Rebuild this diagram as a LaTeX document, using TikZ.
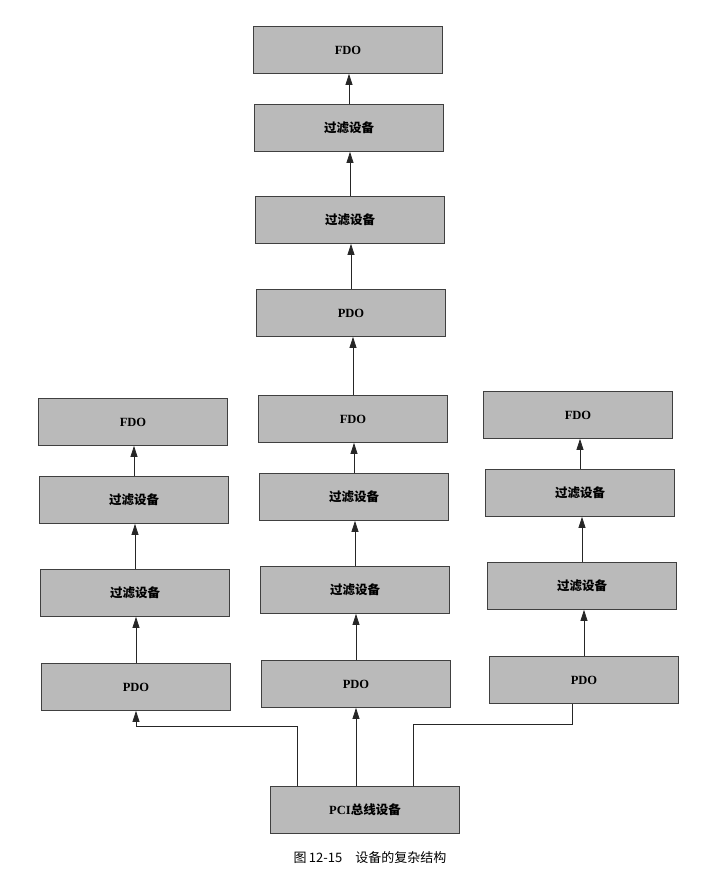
\documentclass[tikz,border=0pt]{standalone}
\usepackage{fontspec}
\setmainfont{Liberation Serif}
\newfontfamily\cjk{Noto Sans CJK SC}
\usetikzlibrary{arrows.meta}

\begin{document}
\begin{tikzpicture}[x=1pt,y=-1pt,
  dev/.style={rectangle,draw=black!75,fill=black!27,line width=0.8pt,
    minimum width=189pt,minimum height=47pt,font=\fontsize{12.5}{15}\selectfont\bfseries},
  up/.style={-{Triangle[length=11pt,width=7pt]},draw=black!85,line width=0.7pt}]
\useasboundingbox (0,0) rectangle (704,879);

% upper chain
\node[dev] (tfdo) at (348,50) {FDO};
\node[dev] (tfa) at (349,128) {\cjk 过滤设备};
\node[dev] (tfb) at (350,220) {\cjk 过滤设备};
\node[dev] (tpdo) at (351,313) {PDO};

% left column
\node[dev] (lfdo) at (133,422) {FDO};
\node[dev] (lfa) at (134,500) {\cjk 过滤设备};
\node[dev] (lfb) at (135,593) {\cjk 过滤设备};
\node[dev] (lpdo) at (136,687) {PDO};

% middle column
\node[dev] (mfdo) at (353,419) {FDO};
\node[dev] (mfa) at (354,497) {\cjk 过滤设备};
\node[dev] (mfb) at (355,590) {\cjk 过滤设备};
\node[dev] (mpdo) at (356,684) {PDO};

% right column
\node[dev] (rfdo) at (578,415) {FDO};
\node[dev] (rfa) at (580,493) {\cjk 过滤设备};
\node[dev] (rfb) at (582,586) {\cjk 过滤设备};
\node[dev] (rpdo) at (584,680) {PDO};

% bus
\node[dev] (pci) at (365,810) {PCI\cjk 总线设备};

\draw[up] (tfa.north) -- (tfa.north |- tfdo.south);
\draw[up] (tfb.north) -- (tfb.north |- tfa.south);
\draw[up] (tpdo.north) -- (tpdo.north |- tfb.south);
\draw[up] (mfdo.north) -- (mfdo.north |- tpdo.south);

\draw[up] (lfa.north) -- (lfa.north |- lfdo.south);
\draw[up] (lfb.north) -- (lfb.north |- lfa.south);
\draw[up] (lpdo.north) -- (lpdo.north |- lfb.south);

\draw[up] (mfa.north) -- (mfa.north |- mfdo.south);
\draw[up] (mfb.north) -- (mfb.north |- mfa.south);
\draw[up] (mpdo.north) -- (mpdo.north |- mfb.south);

\draw[up] (rfa.north) -- (rfa.north |- rfdo.south);
\draw[up] (rfb.north) -- (rfb.north |- rfa.south);
\draw[up] (rpdo.north) -- (rpdo.north |- rfb.south);

% from the bus to the three PDOs
\coordinate (bl) at (136,726);
\coordinate (br) at (572,724);
\draw[up] ([xshift=-68pt]pci.north) |- (bl) -- (lpdo.south);
\draw[up] (mpdo.south |- pci.north) -- (mpdo.south);
\draw[draw=black!85,line width=0.7pt] ([xshift=48pt]pci.north) |- (br) -- (br |- rpdo.south);

\node[font=\fontsize{13}{15}\selectfont] (cap) at (370,858) {\cjk 图\,12-15\quad 设备的复杂结构};
\end{tikzpicture}
\end{document}
